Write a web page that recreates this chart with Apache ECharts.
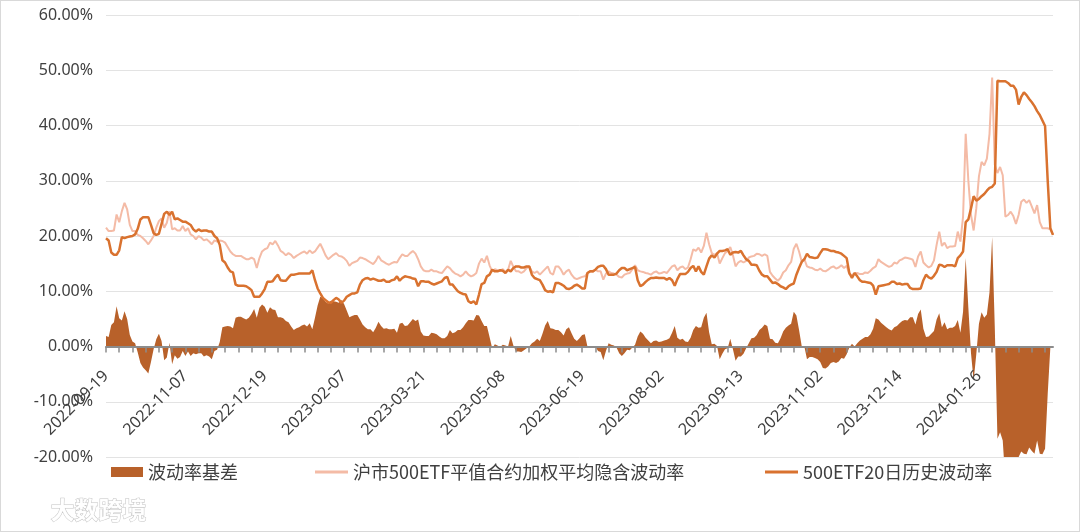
<!DOCTYPE html>
<html>
<head>
<meta charset="utf-8">
<script src="https://cdn.jsdelivr.net/npm/echarts@6/dist/echarts.min.js"></script>
<style>
html,body{margin:0;padding:0;background:#fff;}
#c{width:1080px;height:532px;}
#b{position:absolute;left:0;top:0;width:1080px;height:532px;box-sizing:border-box;border:1px solid #d9d9d9;pointer-events:none;}
</style>
</head>
<body>
<div id="c"></div>
<div id="b"></div>
<script>
// Trading days (categories)
const dates = [
"2022-09-19","2022-09-20","2022-09-21","2022-09-22","2022-09-23","2022-09-26","2022-09-27","2022-09-28","2022-09-29","2022-09-30",
"2022-10-10","2022-10-11","2022-10-12","2022-10-13","2022-10-14","2022-10-17","2022-10-18","2022-10-19","2022-10-20","2022-10-21","2022-10-24","2022-10-25","2022-10-26","2022-10-27","2022-10-28","2022-10-31",
"2022-11-01","2022-11-02","2022-11-03","2022-11-04","2022-11-07","2022-11-08","2022-11-09","2022-11-10","2022-11-11","2022-11-14","2022-11-15","2022-11-16","2022-11-17","2022-11-18","2022-11-21","2022-11-22","2022-11-23","2022-11-24","2022-11-25","2022-11-28","2022-11-29","2022-11-30",
"2022-12-01","2022-12-02","2022-12-05","2022-12-06","2022-12-07","2022-12-08","2022-12-09","2022-12-12","2022-12-13","2022-12-14","2022-12-15","2022-12-16","2022-12-19","2022-12-20","2022-12-21","2022-12-22","2022-12-23","2022-12-26","2022-12-27","2022-12-28","2022-12-29","2022-12-30",
"2023-01-03","2023-01-04","2023-01-05","2023-01-06","2023-01-09","2023-01-10","2023-01-11","2023-01-12","2023-01-13","2023-01-16","2023-01-17","2023-01-18","2023-01-19","2023-01-20","2023-01-30","2023-01-31",
"2023-02-01","2023-02-02","2023-02-03","2023-02-06","2023-02-07","2023-02-08","2023-02-09","2023-02-10","2023-02-13","2023-02-14","2023-02-15","2023-02-16","2023-02-17","2023-02-20","2023-02-21","2023-02-22","2023-02-23","2023-02-24","2023-02-27","2023-02-28",
"2023-03-01","2023-03-02","2023-03-03","2023-03-06","2023-03-07","2023-03-08","2023-03-09","2023-03-10","2023-03-13","2023-03-14","2023-03-15","2023-03-16","2023-03-17","2023-03-20","2023-03-21","2023-03-22","2023-03-23","2023-03-24","2023-03-27","2023-03-28","2023-03-29","2023-03-30","2023-03-31",
"2023-04-03","2023-04-04","2023-04-06","2023-04-07","2023-04-10","2023-04-11","2023-04-12","2023-04-13","2023-04-14","2023-04-17","2023-04-18","2023-04-19","2023-04-20","2023-04-21","2023-04-24","2023-04-25","2023-04-26","2023-04-27","2023-04-28",
"2023-05-04","2023-05-05","2023-05-08","2023-05-09","2023-05-10","2023-05-11","2023-05-12","2023-05-15","2023-05-16","2023-05-17","2023-05-18","2023-05-19","2023-05-22","2023-05-23","2023-05-24","2023-05-25","2023-05-26","2023-05-29","2023-05-30","2023-05-31",
"2023-06-01","2023-06-02","2023-06-05","2023-06-06","2023-06-07","2023-06-08","2023-06-09","2023-06-12","2023-06-13","2023-06-14","2023-06-15","2023-06-16","2023-06-19","2023-06-20","2023-06-21","2023-06-26","2023-06-27","2023-06-28","2023-06-29","2023-06-30",
"2023-07-03","2023-07-04","2023-07-05","2023-07-06","2023-07-07","2023-07-10","2023-07-11","2023-07-12","2023-07-13","2023-07-14","2023-07-17","2023-07-18","2023-07-19","2023-07-20","2023-07-21","2023-07-24","2023-07-25","2023-07-26","2023-07-27","2023-07-28","2023-07-31",
"2023-08-01","2023-08-02","2023-08-03","2023-08-04","2023-08-07","2023-08-08","2023-08-09","2023-08-10","2023-08-11","2023-08-14","2023-08-15","2023-08-16","2023-08-17","2023-08-18","2023-08-21","2023-08-22","2023-08-23","2023-08-24","2023-08-25","2023-08-28","2023-08-29","2023-08-30","2023-08-31",
"2023-09-01","2023-09-04","2023-09-05","2023-09-06","2023-09-07","2023-09-08","2023-09-11","2023-09-12","2023-09-13","2023-09-14","2023-09-15","2023-09-18","2023-09-19","2023-09-20","2023-09-21","2023-09-22","2023-09-25","2023-09-26","2023-09-27","2023-09-28",
"2023-10-09","2023-10-10","2023-10-11","2023-10-12","2023-10-13","2023-10-16","2023-10-17","2023-10-18","2023-10-19","2023-10-20","2023-10-23","2023-10-24","2023-10-25","2023-10-26","2023-10-27","2023-10-30","2023-10-31",
"2023-11-01","2023-11-02","2023-11-03","2023-11-06","2023-11-07","2023-11-08","2023-11-09","2023-11-10","2023-11-13","2023-11-14","2023-11-15","2023-11-16","2023-11-17","2023-11-20","2023-11-21","2023-11-22","2023-11-23","2023-11-24","2023-11-27","2023-11-28","2023-11-29","2023-11-30",
"2023-12-01","2023-12-04","2023-12-05","2023-12-06","2023-12-07","2023-12-08","2023-12-11","2023-12-12","2023-12-13","2023-12-14","2023-12-15","2023-12-18","2023-12-19","2023-12-20","2023-12-21","2023-12-22","2023-12-25","2023-12-26","2023-12-27","2023-12-28","2023-12-29",
"2024-01-02","2024-01-03","2024-01-04","2024-01-05","2024-01-08","2024-01-09","2024-01-10","2024-01-11","2024-01-12","2024-01-15","2024-01-16","2024-01-17","2024-01-18","2024-01-19","2024-01-22","2024-01-23","2024-01-24","2024-01-25","2024-01-26","2024-01-29","2024-01-30","2024-01-31",
"2024-02-01","2024-02-02","2024-02-05","2024-02-06","2024-02-07","2024-02-08","2024-02-19","2024-02-20","2024-02-21","2024-02-22","2024-02-23","2024-02-26","2024-02-27","2024-02-28","2024-02-29",
"2024-03-01","2024-03-04","2024-03-05","2024-03-06","2024-03-07","2024-03-08","2024-03-11","2024-03-12","2024-03-13","2024-03-14"
];

// 沪市500ETF平值合约加权平均隐含波动率 (%)
const impliedVol = [
21.5,20.9,20.9,21.0,23.9,22.5,24.5,26.0,24.8,22.0,
20.9,20.9,20.2,20.0,19.6,19.1,18.5,19.2,20.0,21.5,
22.7,23.2,21.5,22.4,24.5,21.2,21.4,21.0,21.0,21.8,
20.9,21.4,20.3,20.0,19.4,20.0,19.7,19.2,19.4,19.0,
18.5,19.2,19.0,19.2,19.1,18.8,18.0,17.2,16.7,16.4,
16.4,16.4,16.1,15.8,15.8,16.1,15.8,14.2,16.0,17.2,
17.6,17.8,18.8,18.5,19.1,18.3,17.3,17.0,16.5,16.9,
16.6,16.0,16.4,16.7,17.0,17.2,16.8,17.4,16.9,17.2,
17.9,18.6,17.6,16.5,15.8,16.2,16.6,16.9,16.4,16.3,
16.0,15.5,14.6,15.1,15.3,15.5,16.1,16.0,15.8,15.5,
15.2,14.9,15.5,16.4,15.6,15.3,15.0,14.8,15.1,15.3,
15.2,16.0,16.7,16.4,16.4,16.9,17.3,16.8,15.8,14.5,
13.8,13.6,13.6,13.9,13.6,13.6,13.4,13.3,13.9,14.5,
14.2,13.6,13.2,13.0,12.7,13.0,13.6,13.0,12.7,12.9,
13.3,15.0,15.9,15.2,16.4,14.7,13.6,14.0,13.8,13.7,
14.0,13.5,13.9,15.5,14.4,13.6,13.6,13.3,13.6,14.2,
14.5,13.6,13.3,13.6,13.0,13.5,14.0,14.5,13.3,13.0,
14.5,14.5,13.9,13.0,13.6,13.9,13.0,12.4,12.2,12.4,
12.6,12.7,13.3,13.6,13.5,13.9,13.6,13.6,12.1,13.2,
13.6,13.3,13.2,13.0,12.6,12.5,13.0,13.2,13.3,14.0,
14.7,13.8,13.6,13.5,13.3,13.2,13.0,13.4,13.6,13.2,
13.3,13.5,13.3,13.9,14.5,14.7,13.8,14.3,14.5,14.0,
14.3,15.8,17.6,17.3,17.9,17.0,18.2,20.6,18.5,16.9,
16.6,16.9,15.0,16.0,16.9,17.3,18.0,16.5,14.5,15.2,
15.5,15.2,15.5,16.1,16.3,16.4,16.8,16.7,16.4,16.7,
16.4,13.5,12.8,12.3,11.9,12.4,13.4,13.8,14.7,15.3,
17.7,18.6,17.2,15.4,15.8,14.5,14.3,14.2,13.9,13.8,
14.1,13.7,13.6,13.9,14.3,14.5,14.1,14.3,14.7,14.2,
14.6,13.1,12.9,13.3,13.3,13.1,13.1,13.4,13.3,13.7,
14.2,14.5,15.8,15.3,15.0,14.7,14.4,14.6,15.2,15.0,
15.6,15.8,16.1,16.0,15.9,15.7,14.4,16.3,17.2,15.2,
14.7,14.3,14.6,15.6,18.4,20.8,18.2,18.8,17.8,18.1,
18.1,18.2,20.8,19.0,23.5,38.5,30.0,23.8,21.0,25.0,
30.8,33.4,32.8,34.0,38.5,48.7,32.9,31.4,32.5,31.0,
23.5,23.8,24.4,23.6,22.2,23.8,26.2,26.6,26.0,26.5,
25.3,24.1,25.6,22.5,21.4,21.4,21.4,21.2,20.2
];

// 500ETF20日历史波动率 (%)
const histVol = [
19.6,19.2,17.0,16.6,16.6,17.4,19.8,19.6,19.8,19.9,
20.0,20.3,21.3,23.0,23.4,23.4,23.4,22.0,20.5,20.2,
20.4,22.2,24.0,24.4,23.8,24.4,23.0,23.2,22.9,22.6,
22.6,22.3,22.0,21.2,20.8,21.2,20.9,21.0,21.0,20.8,
20.8,20.0,19.6,18.4,15.6,15.2,14.3,13.6,13.4,11.2,
11.0,11.0,11.0,10.9,10.6,10.2,9.0,9.0,9.0,9.6,
10.4,11.7,11.7,11.8,12.5,13.0,12.0,11.9,11.9,12.5,
13.0,13.0,13.1,13.2,13.2,13.2,13.2,13.2,13.8,12.0,
10.5,9.6,8.8,8.4,8.0,7.9,8.4,8.8,8.5,7.9,
8.3,9.0,9.3,9.6,9.6,9.8,11.2,12.0,12.3,12.4,
12.1,12.3,12.1,11.9,11.9,12.1,11.7,11.7,12.0,12.1,
12.7,11.9,12.4,12.7,12.6,12.5,12.3,12.2,10.9,11.8,
11.8,11.7,11.7,11.4,11.2,11.4,11.6,11.8,12.4,12.6,
11.2,11.2,10.6,10.0,9.7,9.5,9.4,8.2,7.9,8.2,
7.6,9.4,11.3,11.5,12.7,13.0,13.9,13.6,13.6,13.8,
13.7,13.3,13.9,13.6,14.2,14.5,14.5,14.3,14.3,14.5,
14.5,13.0,12.4,12.2,12.0,11.2,10.2,9.9,10.0,9.8,
11.5,11.5,11.3,11.0,10.5,10.4,10.6,11.0,11.2,10.9,
10.5,10.5,13.3,13.6,13.6,13.9,14.4,14.6,14.6,14.0,
13.0,13.0,13.0,13.2,13.8,14.2,14.2,13.8,14.0,14.2,
14.4,12.0,10.9,11.2,11.7,12.1,12.4,12.4,12.5,12.4,
12.4,12.4,12.1,12.4,12.0,11.0,12.2,13.1,13.1,13.1,
13.5,14.2,14.6,13.6,14.5,13.5,13.0,14.5,15.9,16.5,
16.1,16.8,17.3,17.3,17.4,17.6,16.6,17.0,17.1,17.0,
17.3,16.5,15.8,15.5,14.8,14.8,14.7,13.7,13.0,12.7,
12.7,12.1,11.5,11.6,11.3,10.9,10.7,10.4,10.9,11.2,
11.4,13.0,14.2,15.3,15.8,16.8,16.2,16.1,16.0,16.1,
16.9,17.6,17.6,17.5,17.3,17.3,17.1,17.0,16.8,16.4,
16.0,13.3,12.4,13.3,12.7,12.0,11.7,11.7,11.6,11.5,
11.0,9.4,10.9,11.0,11.1,11.2,11.3,11.7,11.7,11.3,
11.4,11.2,11.3,11.3,10.6,10.4,10.4,10.4,10.5,12.0,
13.0,12.5,12.3,12.8,13.5,14.8,14.7,14.4,14.7,14.7,
14.7,14.5,16.0,16.5,17.2,22.5,23.0,25.0,27.2,26.4,
26.7,27.2,27.6,28.2,28.7,28.9,29.5,48.1,48.0,48.0,
48.0,47.7,47.2,47.2,46.5,43.8,45.2,46.0,45.5,44.8,
44.2,43.5,42.6,41.9,40.9,39.9,30.0,21.4,20.2
];

// 波动率基差 (%)
const volBasis = [
1.9,1.7,3.9,4.4,7.3,5.1,4.7,6.4,5.0,2.1,
0.9,0.6,-1.1,-3.0,-3.8,-4.3,-4.9,-2.8,-0.5,1.3,
2.3,1.0,-2.5,-2.0,0.7,-3.2,-1.6,-2.2,-1.9,-0.8,
-1.7,-0.9,-1.7,-1.2,-1.4,-1.2,-1.2,-1.8,-1.6,-1.8,
-2.3,-0.8,-0.6,0.8,3.5,3.6,3.7,3.6,3.3,5.2,
5.4,5.4,5.1,4.9,5.2,5.9,6.8,5.2,7.0,7.6,
7.2,6.1,7.1,6.7,6.6,5.3,5.3,5.1,4.6,4.4,
3.6,3.0,3.3,3.5,3.8,4.0,3.6,4.2,3.1,5.2,
7.4,9.0,8.8,8.1,7.8,8.3,8.2,8.1,7.9,8.4,
7.7,6.5,5.3,5.5,5.7,5.7,4.9,4.0,3.5,3.1,
3.1,2.6,3.4,4.5,3.7,3.2,3.3,3.1,3.1,3.2,
2.5,4.1,4.3,3.7,3.8,4.4,5.0,4.6,4.9,2.7,
2.0,1.9,1.9,2.5,2.4,2.2,1.8,1.5,1.5,1.9,
3.0,2.4,2.6,3.0,3.0,3.5,4.2,4.8,4.8,4.7,
5.7,5.6,4.6,3.7,3.7,1.7,-0.3,0.4,0.2,-0.1,
0.3,0.2,0.0,1.9,0.2,-0.9,-0.9,-1.0,-0.7,-0.3,
0.0,0.6,0.9,1.4,1.0,2.3,3.8,4.6,3.3,3.2,
3.0,3.0,2.6,2.0,3.1,3.5,2.4,1.4,1.0,1.5,
2.1,2.2,0.0,0.0,-0.1,0.0,-0.8,-1.0,-2.5,-0.8,
0.6,0.3,0.2,-0.2,-1.2,-1.7,-1.2,-0.6,-0.7,-0.2,
0.3,1.8,2.7,2.3,1.6,1.1,0.6,1.0,1.1,0.8,
0.9,1.1,1.2,1.5,2.5,3.7,1.6,1.2,1.4,0.9,
0.8,1.6,3.0,3.7,3.4,3.5,5.2,6.1,2.6,0.4,
0.5,0.1,-2.3,-1.3,-0.5,-0.3,1.4,-0.5,-2.6,-1.8,
-1.8,-1.3,-0.3,0.6,1.5,1.6,2.1,3.0,3.4,4.0,
3.7,1.4,1.3,0.7,0.6,1.5,2.7,3.4,3.8,4.1,
6.3,5.6,3.0,0.1,0.0,-2.3,-1.9,-1.9,-2.1,-2.3,
-2.8,-3.9,-4.0,-3.6,-3.0,-2.8,-3.0,-2.7,-2.1,-2.2,
-1.4,-0.2,0.5,0.0,0.6,1.1,1.4,1.7,1.7,2.2,
3.2,5.1,4.9,4.3,3.9,3.5,3.1,2.9,3.5,3.7,
4.2,4.6,4.8,4.7,5.3,5.3,4.0,5.9,6.7,3.2,
1.7,1.8,2.3,2.8,4.9,6.0,3.5,4.4,3.1,3.4,
3.4,3.7,4.8,2.5,6.3,16.0,7.0,-1.2,-6.2,-1.4,
4.1,6.2,5.2,5.8,9.8,19.8,3.4,-16.7,-15.5,-17.0,
-24.5,-23.9,-22.8,-23.6,-24.3,-20.0,-19.0,-19.4,-19.5,-18.3,
-18.9,-19.4,-17.0,-19.4,-19.5,-18.5,-8.6,-0.2,0.0
];

const seriesNames = ['波动率基差', '沪市500ETF平值合约加权平均隐含波动率', '500ETF20日历史波动率'];
const yTicks = { min: -20, max: 60, step: 10 };

const fontNum = "'Noto Sans','Liberation Sans',sans-serif";
const fontCJK = "'Noto Sans CJK SC','Noto Sans',sans-serif";
const cBasis = '#B8612A', cIV = '#F4BBA6', cHV = '#D9722F';
const textCol = '#404040';

// grid: top 15, bottom 75 -> plot height 442; the category axis sits on the 0% line
const gridTop = 15, gridBottom = 75, chartH = 532;
const plotH = chartH - gridTop - gridBottom;
const zeroOffset = -plotH * (0 - yTicks.min) / (yTicks.max - yTicks.min);

const chart = echarts.init(document.getElementById('c'), null, { renderer: 'canvas' });
const legendText = { fontSize: 18, color: textCol, fontFamily: fontCJK };
chart.setOption({
  animation: false,
  backgroundColor: '#ffffff',
  grid: { left: 106, right: 27, top: gridTop, bottom: gridBottom },
  xAxis: {
    type: 'category', data: dates, boundaryGap: false, z: 5,
    offset: zeroOffset,
    axisLine: { onZero: false, lineStyle: { color: '#8C8C8C', width: 2 } },
    axisTick: { show: true, interval: 4, length: 6, lineStyle: { color: '#8C8C8C', width: 1.5 } },
    axisLabel: { interval: 29, rotate: 45, fontSize: 16, color: textCol, fontFamily: fontNum, margin: 27 },
    splitLine: { show: false }
  },
  yAxis: {
    type: 'value', min: yTicks.min, max: yTicks.max, interval: yTicks.step,
    axisLine: { show: false }, axisTick: { show: false },
    axisLabel: { formatter: v => v.toFixed(2) + '%', fontSize: 16, color: textCol, fontFamily: fontNum, margin: 13 },
    splitLine: { lineStyle: { color: '#E3E3E3', width: 1 } }
  },
  legend: [
    { data: [seriesNames[0]], left: 106, top: 458, icon: 'rect', itemWidth: 32, itemHeight: 10, selectedMode: false, textStyle: legendText },
    { data: [seriesNames[1]], left: 310, top: 458, icon: 'rect', itemWidth: 33, itemHeight: 3, selectedMode: false, textStyle: legendText },
    { data: [seriesNames[2]], left: 760, top: 458, icon: 'rect', itemWidth: 33, itemHeight: 3, selectedMode: false, textStyle: legendText }
  ],
  series: [
    { name: seriesNames[0], type: 'line', data: volBasis, symbol: 'none', z: 1,
      lineStyle: { width: 0 }, itemStyle: { color: cBasis }, areaStyle: { color: cBasis, opacity: 1 } },
    { name: seriesNames[1], type: 'line', data: impliedVol, symbol: 'none', z: 2,
      lineStyle: { width: 2, color: cIV }, itemStyle: { color: cIV } },
    { name: seriesNames[2], type: 'line', data: histVol, symbol: 'none', z: 3,
      lineStyle: { width: 2.5, color: cHV }, itemStyle: { color: cHV } }
  ],
  graphic: [
    { type: 'text', left: 50, top: 497, z: 100,
      style: { text: '大数跨境', font: 'bold 24px "Noto Sans CJK SC"', fill: 'rgba(255,255,255,0.95)', stroke: '#c4c4c4', lineWidth: 1 } }
  ]
});
</script>
</body>
</html>
